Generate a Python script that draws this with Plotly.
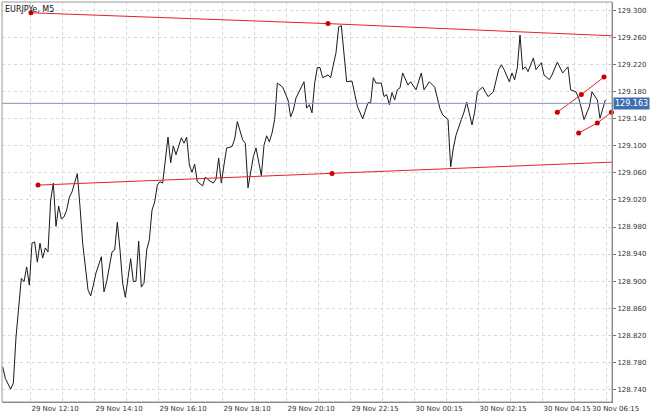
import plotly.graph_objects as go

bars = [1,2,4,5,6,8,9,10,11,12,13,14,15,16,17,18,19,20,21,22,23,24,25,26,27,29,30,31,33,34,35,36,38,39,40,42,43,44,45,46,47,48,49,50,51,52,53,54,55,56,57,58,59,60,61,
        63,64,65,66,68,69,70,71,72,73,74,76,77,78,80,81,82,83,84,85,87,88,89,91,92,93,95,96,98,99,100,101,102,103,104,106,108,109,110,111,114,115,116,117,118,119,120,121,123,124,125,126,127,128,
        130,132,134,136,138,139,140,141,143,144,145,146,147,148,149,150,151,153,154,156,158,159,161,163,165,166,168,169,170,171,173,174,175,177,178,179,181,182,183,185,187,188,189,191,192,193,194,195,196,197,198,200,201,203,204,206,207,209,211,213,214,216,217,218,219,221,222,224,225,227]
prices = [128.773,128.756,128.740,128.749,128.817,128.904,128.899,128.921,128.894,128.956,128.958,128.928,128.956,128.934,128.949,128.943,129.020,129.045,128.981,129.011,128.992,128.995,129.005,129.024,129.032,129.059,129.010,128.956,128.887,128.878,128.894,128.912,128.936,128.884,128.899,128.943,128.946,128.987,128.946,128.897,128.876,128.909,128.933,128.899,128.900,128.959,128.891,128.897,128.946,128.961,129.005,129.017,129.042,129.047,129.045,
          129.113,129.075,129.100,129.087,129.112,129.104,129.113,129.072,129.061,129.073,129.047,129.041,129.054,129.050,129.045,129.051,129.082,129.045,129.072,129.097,129.099,129.110,129.136,129.109,129.104,129.038,129.084,129.097,129.056,129.101,129.115,129.106,129.119,129.139,129.193,129.187,129.168,129.143,129.153,129.171,129.195,129.156,129.161,129.149,129.193,129.216,129.216,129.201,129.205,129.201,129.220,129.238,129.276,129.278,
          129.195,129.196,129.159,129.140,129.164,129.164,129.201,129.193,129.193,129.173,129.176,129.161,129.179,129.168,129.183,129.186,129.208,129.190,129.195,129.183,129.208,129.183,129.195,129.187,129.155,129.146,129.139,129.069,129.097,129.116,129.139,129.150,129.165,129.131,129.150,129.180,129.187,129.180,129.173,129.180,129.213,129.220,129.213,129.195,129.208,129.198,129.216,129.264,129.213,129.217,129.210,129.230,129.213,129.223,129.205,129.198,129.205,129.224,129.208,129.217,129.183,129.180,129.171,129.156,129.139,129.158,129.180,129.168,129.141,129.168]

tick_pos = [11.6,23.6,35.6,47.6,59.6,71.6,83.6,95.6,107.6,119.6,131.6,143.6,155.6,167.6,179.6,191.6,203.6,215.6,227.6]
tick_text = ["29 Nov 12:10","","29 Nov 14:10","","29 Nov 16:10","","29 Nov 18:10","","29 Nov 20:10","",
             "29 Nov 22:15","","30 Nov 00:15","","30 Nov 02:15","","30 Nov 04:15","",""]
last_label = "30 Nov 06:15"
y_ticks = [128.740,128.780,128.820,128.860,128.900,128.940,128.980,129.020,129.060,129.100,129.140,129.180,129.220,129.260,129.300]
y_text = ["%.3f" % v for v in y_ticks]

upper_x = [11.6, 123, 229.5]; upper_y = [129.297, 129.281, 129.263]
lower_x = [14.25, 124.5, 229.5]; lower_y = [129.042, 129.059, 129.076]
ch1_x = [209, 218, 226.5]; ch1_y = [129.150, 129.176, 129.202]
ch2_x = [217, 224, 229.3]; ch2_y = [129.119, 129.134, 129.150]
last_price = 129.163

red = "#e8202a"
fig = go.Figure()
fig.add_trace(go.Scatter(x=bars, y=prices, mode="lines", line=dict(color="#1a1a1a", width=1)))
for xs, ys, dots in [(upper_x, upper_y, 2), (lower_x, lower_y, 2), (ch1_x, ch1_y, 3), (ch2_x, ch2_y, 3)]:
    fig.add_trace(go.Scatter(x=xs, y=ys, mode="lines", line=dict(color=red, width=1), cliponaxis=False))
    fig.add_trace(go.Scatter(x=xs[:dots], y=ys[:dots], mode="markers", marker=dict(color="#cc0000", size=5), cliponaxis=False))

fig.add_hline(y=last_price, line=dict(color="#7f98b3", width=1))
fig.add_annotation(x=1, xref="paper", y=last_price, text="%.3f" % last_price, showarrow=False, xanchor="left",
                   xshift=1, bgcolor="#3d6fb0", font=dict(color="white", size=8, family="DejaVu Sans"), borderpad=1)
fig.add_annotation(x=0, xref="paper", y=1, yref="paper", text="EURJPYe, M5", showarrow=False,
                   xanchor="left", yanchor="top", xshift=1, yshift=-1, font=dict(size=8, color="#111", family="DejaVu Sans"))
fig.add_annotation(x=tick_pos[-1], y=0, yref="paper", text=last_label, showarrow=False, xanchor="left",
                   xshift=-17, yanchor="top", yshift=-1, font=dict(size=7, color="#333", family="DejaVu Sans"))

fig.update_layout(width=650, height=416, margin=dict(l=2, r=38, t=2, b=14), showlegend=False,
                  plot_bgcolor="white", paper_bgcolor="white",
                  font=dict(family="DejaVu Sans", size=7, color="#333"))
fig.update_xaxes(range=[0.75, 229.5], tickvals=tick_pos, ticktext=tick_text, ticklabelposition="outside right",
                 showgrid=True, gridcolor="#d8d8d8", griddash="dot", zeroline=False,
                 showline=True, linecolor="#777", ticks="", tickfont=dict(size=7))
fig.update_yaxes(range=[128.721, 129.313], side="right", tickvals=y_ticks, ticktext=y_text,
                 showgrid=True, gridcolor="#d8d8d8", griddash="dot", zeroline=False,
                 showline=True, linecolor="#777", ticks="outside", ticklen=3, tickcolor="#777", tickfont=dict(size=7))
fig.add_shape(type="rect", xref="paper", yref="paper", x0=0, x1=1, y0=0, y1=1, line=dict(color="#999", width=1))
fig.write_html("out.html", config={"displayModeBar": False},
               post_script="document.body.style.margin='0';document.body.style.overflow='hidden';")
